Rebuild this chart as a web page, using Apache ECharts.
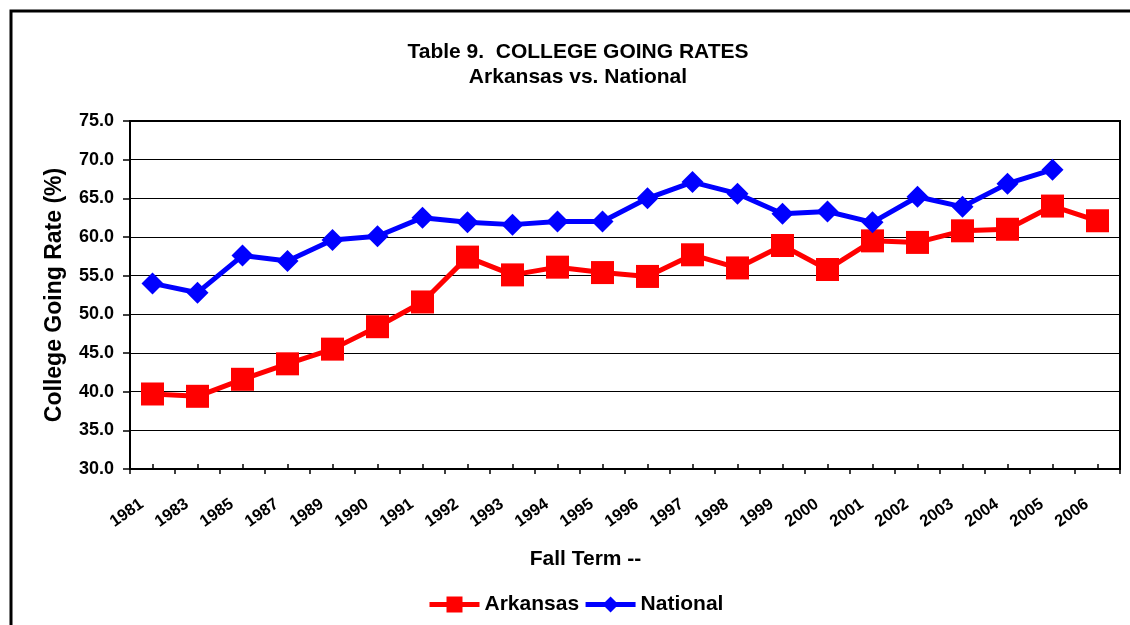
<!DOCTYPE html>
<html>
<head>
<meta charset="utf-8">
<script src="https://cdn.jsdelivr.net/npm/echarts@6/dist/echarts.min.js"></script>
<style>
  html, body { margin: 0; padding: 0; background: #fff; }
  #chart { width: 1130px; height: 625px; }
</style>
</head>
<body>
<div id="chart"></div>
<script>
let years = ["1981", "1983", "1985", "1987", "1989", "1990", "1991", "1992", "1993", "1994", "1995",
  "1996", "1997", "1998", "1999", "2000", "2001", "2002", "2003", "2004", "2005", "2006"];
let arkansas = [39.7, 39.4, 41.6, 43.6, 45.5, 48.4, 51.6, 57.4, 55.1, 56.1, 55.4,
  54.9, 57.7, 56.0, 58.9, 55.8, 59.5, 59.3, 60.8, 61.0, 64.0, 62.1];
let national = [54.0, 52.8, 57.6, 56.9, 59.6, 60.1, 62.5, 61.9, 61.6, 62.0, 62.0,
  65.0, 67.1, 65.6, 63.0, 63.3, 61.9, 65.2, 63.9, 66.9, 68.7, null];
let yTicks = { min: 30, max: 75, step: 5 };

let font = "'Liberation Sans', Arial, sans-serif";
let myChart = echarts.init(document.getElementById("chart"));

let option = {
  animation: false,
  textStyle: { fontFamily: font, color: "#000" },
  title: {
    text: "Table 9.  COLLEGE GOING RATES\nArkansas vs. National",
    left: 578,
    textAlign: "center",
    top: 40,
    padding: 0,
    textStyle: { fontFamily: font, fontSize: 21, fontWeight: "bold", color: "#000", lineHeight: 25 },
  },
  // outer chart border (runs off the right and bottom of the picture)
  graphic: [
    {
      type: "rect",
      shape: { x: 11, y: 11, width: 1300, height: 800 },
      style: { fill: "none", stroke: "#000", lineWidth: 3 },
      silent: true,
    },
  ],
  legend: {
    left: 422,
    top: 589,
    itemWidth: 50,
    itemHeight: 20,
    itemGap: 4,
    textStyle: { fontFamily: font, fontSize: 21, fontWeight: "bold", color: "#000" },
    data: [
      { name: "Arkansas", lineStyle: { width: 5 } },
      { name: "National", lineStyle: { width: 5 } },
    ],
  },
  grid: {
    left: 130,
    right: 10,
    top: 121,
    bottom: 156,
    show: true,
    borderColor: "#000",
    borderWidth: 2,
  },
  xAxis: [
    {
      type: "category",
      position: "bottom",
      data: years,
      boundaryGap: true,
      name: "Fall Term --",
      nameLocation: "middle",
      nameGap: 80,
      nameTextStyle: { fontFamily: font, fontSize: 21, fontWeight: "bold", color: "#000", padding: [0, 79, 0, 0] },
      axisLine: { lineStyle: { color: "#000", width: 2 } },
      axisTick: { show: true, length: 5, lineStyle: { color: "#000", width: 1.5 } },
      axisLabel: {
        rotate: 35,
        margin: 26,
        padding: [0, 13, 0, 0],
        interval: 0,
        fontFamily: font,
        fontSize: 16.5,
        fontWeight: "bold",
        color: "#000",
      },
    },
    {
      // small inward ticks at each category centre
      type: "category",
      position: "bottom",
      data: years,
      boundaryGap: true,
      axisLine: { show: false },
      axisTick: { show: true, inside: true, alignWithLabel: true, length: 5, lineStyle: { color: "#000", width: 1.5 } },
      axisLabel: { show: false },
      splitLine: { show: false },
    },
  ],
  yAxis: {
    type: "value",
    min: yTicks.min,
    max: yTicks.max,
    interval: yTicks.step,
    name: "College Going Rate (%)",
    nameLocation: "middle",
    nameGap: 64,
    nameTextStyle: { fontFamily: font, fontSize: 23, fontWeight: "bold", color: "#000" },
    axisLine: { show: true, lineStyle: { color: "#000", width: 2 } },
    axisTick: { show: true, length: 7, lineStyle: { color: "#000", width: 1.5 } },
    axisLabel: {
      margin: 16,
      fontFamily: font,
      fontSize: 18,
      fontWeight: "bold",
      color: "#000",
      formatter: (v) => v.toFixed(1),
    },
    splitLine: { lineStyle: { color: "#000", width: 1 } },
  },
  series: [
    {
      name: "Arkansas",
      type: "line",
      data: arkansas,
      symbol: "rect",
      symbolSize: 23,
      lineStyle: { color: "#ff0000", width: 5 },
      itemStyle: { color: "#ff0000" },
    },
    {
      name: "National",
      type: "line",
      data: national,
      symbol: "diamond",
      symbolSize: 22,
      lineStyle: { color: "#0000ff", width: 5 },
      itemStyle: { color: "#0000ff" },
    },
  ],
};

myChart.setOption(option);
</script>
</body>
</html>
